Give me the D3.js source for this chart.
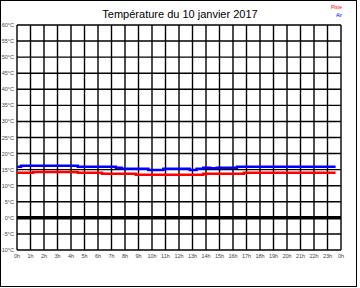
<!DOCTYPE html>
<html>
<head>
<meta charset="utf-8">
<script src="https://cdn.jsdelivr.net/npm/d3@7"></script>
<style>
  body { margin: 0; background: #fff; }
  svg { display: block; font-family: "Liberation Sans", Arial, sans-serif; }
</style>
</head>
<body>
<script>

// hours where a new value starts (step line), values in °C
var airTimes   = [0, 0.3, 4.5, 7.33, 7.75, 9.73, 10.84, 12.8, 13.3, 13.8, 14.3, 14.8, 16.3, 23.6];
var airValues  = [15.9, 16.2, 15.9, 15.6, 15.3, 14.9, 15.3, 14.9, 15.3, 15.6, 15.4, 15.6, 15.9, 15.9];
var pisteTimes  = [0, 1.2, 4.5, 6.3, 8.8, 13.8, 16.8, 23.6];
var pisteValues = [14.0, 14.3, 14.0, 13.7, 13.4, 13.7, 14.0, 14.0];

var hourTicks = d3.range(0, 25);
var tempTicks = d3.range(-10, 61, 5);

var width = 360, height = 288;
var plotLeft = 17, plotRight = 341, plotTop = 25, plotBottom = 250;

var svg = d3.select("body").append("svg")
  .attr("width", width)
  .attr("height", height);

// outer frame
svg.append("rect")
  .attr("x", 0.5).attr("y", 0.5)
  .attr("width", 356).attr("height", 286)
  .style("fill", "none").style("stroke", "#000");

var x = d3.scaleLinear().domain([0, 24]).range([plotLeft, plotRight]);
var y = d3.scaleLinear().domain([-10, 60]).range([plotBottom, plotTop]);

// grid
svg.append("g").selectAll("line").data(hourTicks).enter().append("line")
  .attr("x1", d => x(d)).attr("x2", d => x(d))
  .attr("y1", plotTop).attr("y2", plotBottom)
  .style("stroke", "#000").style("stroke-width", 1.4);

svg.append("g").selectAll("line").data(tempTicks).enter().append("line")
  .attr("x1", plotLeft).attr("x2", plotRight)
  .attr("y1", d => y(d)).attr("y2", d => y(d))
  .style("stroke", "#000").style("stroke-width", 1.4);

// thick zero line
svg.append("line")
  .attr("x1", plotLeft).attr("x2", plotRight)
  .attr("y1", y(0)).attr("y2", y(0))
  .style("stroke", "#000").style("stroke-width", 3.5);

// tick labels
svg.append("g").selectAll("text").data(tempTicks).enter().append("text")
  .attr("x", plotLeft - 3).attr("y", d => y(d) + 2)
  .attr("text-anchor", "end")
  .style("font-size", "5.5px").style("fill", "#444")
  .text(d => d + "°C");

svg.append("g").selectAll("text").data(hourTicks).enter().append("text")
  .attr("x", d => x(d)).attr("y", 258)
  .attr("text-anchor", "middle")
  .style("font-size", "5.5px").style("fill", "#444")
  .text(d => (d % 24) + "h");

// series
var line = d3.line().curve(d3.curveStepAfter);

function draw(times, values, color) {
  var pts = times.map((t, i) => [x(t), y(values[i])]);
  svg.append("path")
    .attr("d", line(pts))
    .style("fill", "none")
    .style("stroke", color)
    .style("stroke-width", 2.5);
}
draw(pisteTimes, pisteValues, "#f00");
draw(airTimes, airValues, "#00f");

// title
svg.append("text")
  .attr("x", 180).attr("y", 18)
  .attr("text-anchor", "middle")
  .style("font-size", "11px")
  .text("Température du 10 janvier 2017");

// legend
svg.append("text")
  .attr("x", 342).attr("y", 9)
  .attr("text-anchor", "end")
  .style("font-size", "5px").style("fill", "#f00")
  .text("Piste");
svg.append("text")
  .attr("x", 342).attr("y", 17)
  .attr("text-anchor", "end")
  .style("font-size", "5px").style("fill", "#00f")
  .text("Air");

</script>
</body>
</html>
